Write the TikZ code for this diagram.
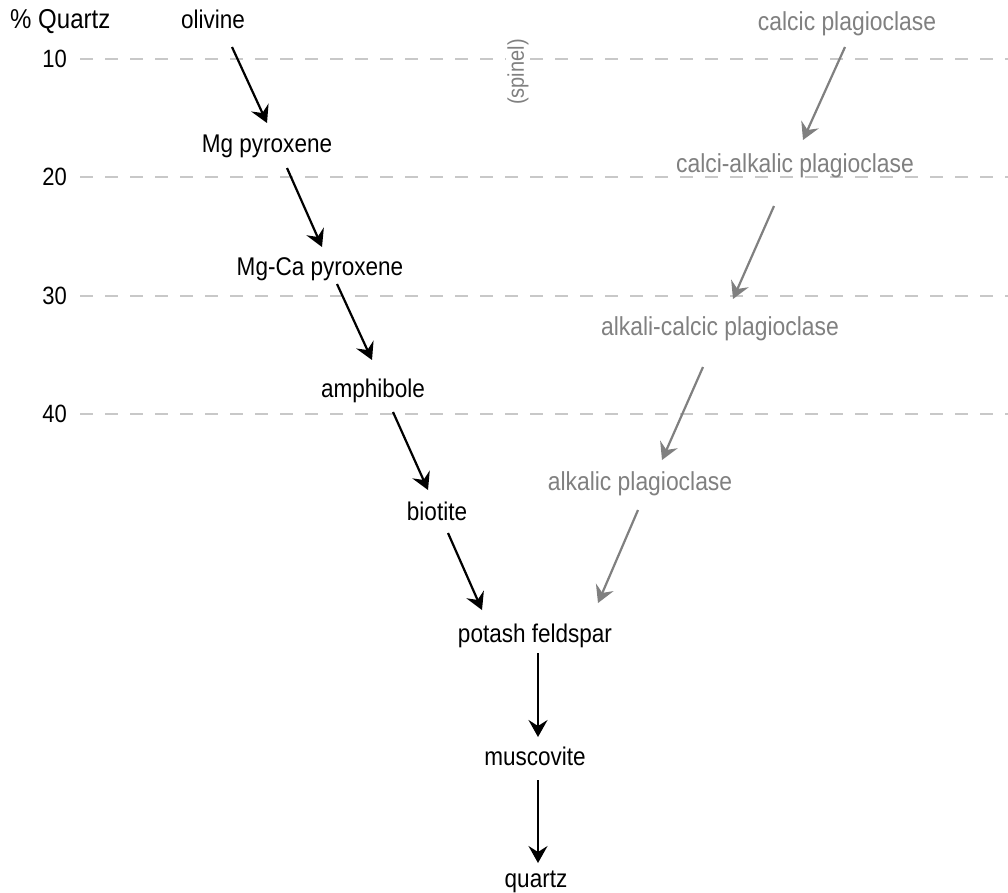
\documentclass[tikz,border=0pt]{standalone}
\usepackage{fontspec}
\setmainfont{Liberation Sans}
\newfontfamily\condf[FakeStretch=0.88]{Liberation Sans}
\usetikzlibrary{arrows.meta,calc}
\definecolor{mingray}{HTML}{808080}
\definecolor{gridgray}{HTML}{C8C8C8}
\tikzset{
  lbl/.style={anchor=base,inner sep=0pt,font=\condf\fontsize{25.6}{30}\selectfont},
  glbl/.style={lbl,text=mingray,font=\condf\fontsize{26}{30}\selectfont},
  num/.style={anchor=base east,inner sep=0pt,font=\condf\fontsize{25}{30}\selectfont},
  grid/.style={draw=gridgray,line width=2pt,dash pattern=on 13pt off 12pt},
  arr/.style={draw=black,line width=2.2pt,-{Stealth[length=17pt,width=19pt,inset=6pt]}},
  garr/.style={draw=mingray,line width=2.2pt,-{Stealth[length=17pt,width=19pt,inset=6pt]}}
}
\begin{document}
\begin{tikzpicture}[x=1pt,y=-1pt]
\useasboundingbox[fill=white] (0,0) rectangle (1008,892);
% dashed levels
\foreach \yy/\n in {59/10,177/20,296/30,414/40}{
  \coordinate (g\n a) at (80,\yy);
  \coordinate (g\n b) at (1008,\yy);
  \draw[grid] (g\n a) -- (g\n b);
  \node[num] (n\n) at (67,\yy+8) {\n};
}
\node[anchor=base west,inner sep=0pt,font=\condf\fontsize{27.3}{32}\selectfont] (title) at (10,28) {\% Quartz};
\node[inner sep=1pt,fill=white,text=mingray,rotate=90,font=\condf\fontsize{22.7}{27}\selectfont] (spinel) at (518,72) {(spinel)};
% left series
\node[lbl] (olivine) at (213,28) {olivine};
\node[lbl] (mgpx) at (267,152) {Mg pyroxene};
\node[lbl] (mgcapx) at (320,275) {Mg-Ca pyroxene};
\node[lbl] (amph) at (373,397) {amphibole};
\node[lbl] (biot) at (437,520) {biotite};
\node[lbl] (kfs) at (535,642) {potash feldspar};
\node[lbl] (musc) at (535,765) {muscovite};
\node[lbl] (qtz) at (536,887) {quartz};
% right series
\node[glbl] (cpl) at (847,30) {calcic plagioclase};
\node[glbl] (capl) at (795,172) {calci-alkalic plagioclase};
\node[glbl] (acpl) at (720,335) {alkali-calcic plagioclase};
\node[glbl] (apl) at (640,490) {alkalic plagioclase};
% black arrows
\draw[arr] ($(olivine.base)+(19,19)$) -- ($(mgpx.base)+(0,-29)$);
\draw[arr] ($(mgpx.base)+(20,16)$) -- ($(mgcapx.base)+(2,-28)$);
\draw[arr] ($(mgcapx.base)+(17,9)$) -- ($(amph.base)+(-1,-37)$);
\draw[arr] ($(amph.base)+(20,15)$) -- ($(biot.base)+(-9,-30)$);
\draw[arr] ($(biot.base)+(11,13)$) -- ($(kfs.base)+(-53,-32)$);
\draw[arr] ($(kfs.base)+(3,11)$) -- ($(musc.base)+(3,-28)$);
\draw[arr] ($(musc.base)+(3,15)$) -- ($(qtz.base)+(2,-24)$);
% gray arrows
\draw[garr] ($(cpl.base)+(-2,17)$) -- ($(capl.base)+(8,-32)$);
\draw[garr] ($(capl.base)+(-21,34)$) -- ($(acpl.base)+(13,-36)$);
\draw[garr] ($(acpl.base)+(-17,32)$) -- ($(apl.base)+(22,-30)$);
\draw[garr] ($(apl.base)+(-2,20)$) -- ($(kfs.base)+(63,-39)$);
\end{tikzpicture}
\end{document}
